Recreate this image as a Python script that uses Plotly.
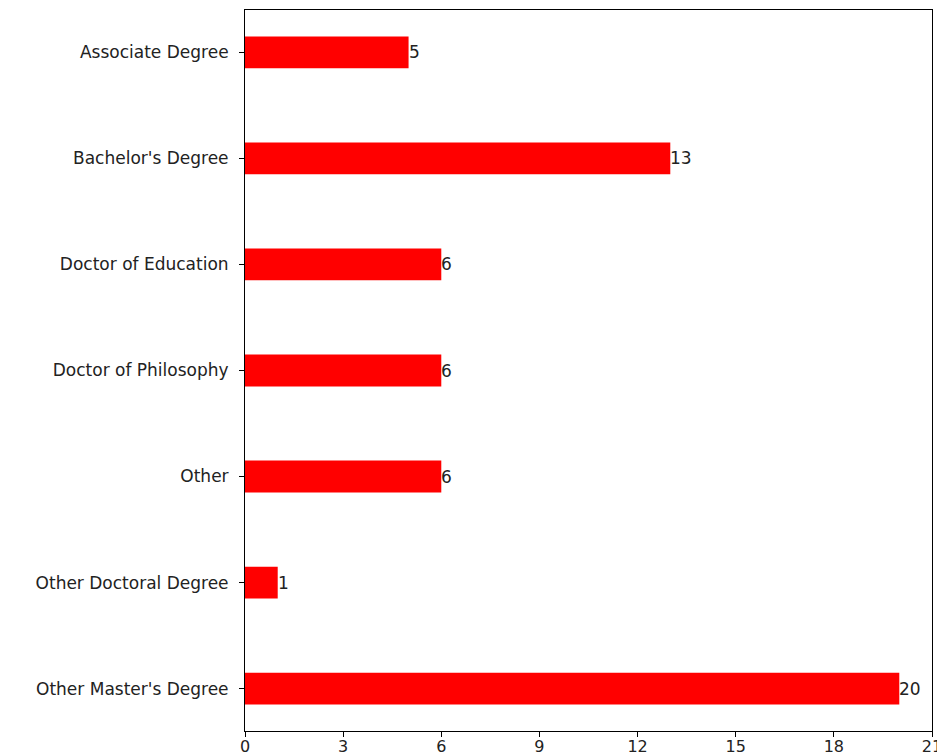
import plotly.graph_objects as go

degrees = ["Associate Degree", "Bachelor's Degree", "Doctor of Education",
           "Doctor of Philosophy", "Other", "Other Doctoral Degree",
           "Other Master's Degree"]
counts = [5, 13, 6, 6, 6, 1, 20]
xticks = [0, 3, 6, 9, 12, 15, 18, 21]

font = dict(family="DejaVu Sans", size=17, color="#222222")

fig = go.Figure(go.Bar(
    x=counts, y=degrees, orientation="h",
    width=0.3, marker=dict(color="red", line=dict(width=0)),
))

for d, c in zip(degrees, counts):
    fig.add_annotation(x=c, y=d, text=str(c), showarrow=False,
                       xanchor="left", yanchor="middle", xshift=-2,
                       font=font)

# page body has an 8px margin, so the figure is sized/offset to compensate
fig.update_layout(
    width=937, height=747,
    margin=dict(l=237, r=13, t=2, b=24),
    plot_bgcolor="white", paper_bgcolor="white",
    font=font, showlegend=False,
)
fig.update_xaxes(range=[0, 21], tickvals=xticks, showgrid=False, zeroline=False,
                 showline=True, linecolor="black", linewidth=1, mirror=True,
                 ticks="outside", ticklen=5, tickcolor="black",
                 tickfont=dict(family="DejaVu Sans", size=16, color="#222222"),
                 ticklabelstandoff=-4, automargin=False)
fig.update_yaxes(categoryorder="array", categoryarray=degrees[::-1],
                 range=[-0.4, 6.4], showgrid=False, zeroline=False,
                 showline=True, linecolor="black", linewidth=1, mirror=True,
                 ticks="outside", ticklen=5, tickcolor="black", tickfont=font,
                 ticklabelstandoff=7, automargin=False)

fig.write_html("out.html")
